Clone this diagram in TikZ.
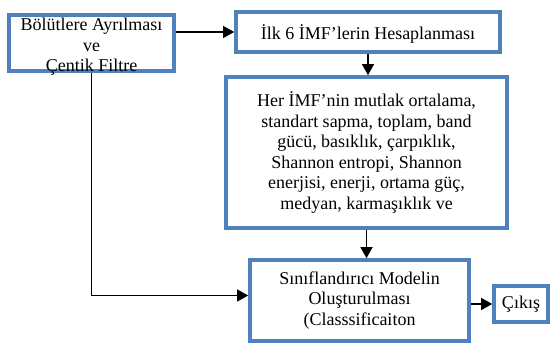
\documentclass[tikz,border=0pt]{standalone}
\usepackage{fontspec}
\setmainfont{Liberation Serif}
\usepackage{tikz}
\usetikzlibrary{positioning,
				arrows.meta,
				calc}
\definecolor{boxblue}{RGB}{79,129,189}

\begin{document}
\begin{tikzpicture}[x=1pt,y=-1pt,
		box/.style={draw=boxblue,line width=3.6pt,fill=white,align=center,inner sep=1pt,
			font=\fontsize{18}{20.6}\selectfont},
		arr/.style={line width=1.3pt,-{Triangle[length=11pt,width=12pt]}}]
		\useasboundingbox (0,0) rectangle (550,344);

		\node[box,minimum width=165pt,minimum height=56pt,inner ysep=-1pt,text height=58pt,text depth=0pt] (seg) at (91.5,43)
			{Bölütlere Ayrılması\\ve\\Çentik Filtre};
		\node[box,minimum width=264pt,minimum height=40pt,text height=16pt,text depth=0pt] (imf) at (368,32)
			{İlk 6 İMF’lerin Hesaplanması};
		\node[box,minimum width=281pt,minimum height=151pt] (feat) at (366.5,152.5)
			{Her İMF’nin mutlak ortalama,\\standart sapma, toplam, band\\gücü, basıklık, çarpıklık,\\Shannon entropi, Shannon\\enerjisi, enerji, ortama güç,\\medyan, karmaşıklık ve};
		\node[box,minimum width=219pt,minimum height=81pt] (model) at (359.5,300.5)
			{Sınıflandırıcı Modelin\\Oluşturulması\\(Classsificaiton};
		\node[box,minimum width=54pt,minimum height=36pt,inner sep=0pt] (out) at (521,304)
			{Çıkış};

		\draw[arr] (seg.east |- imf.west) -- (imf.west);
		\draw[arr] (imf.south) -- (imf.south |- feat.north);
		\draw[arr] (feat.south) -- (feat.south |- model.north);
		\draw[arr] (seg.south) |- ([yshift=5pt]model.west);
		\draw[arr] (model.east |- out.west) -- (out.west);
  \end{tikzpicture}
\end{document}
